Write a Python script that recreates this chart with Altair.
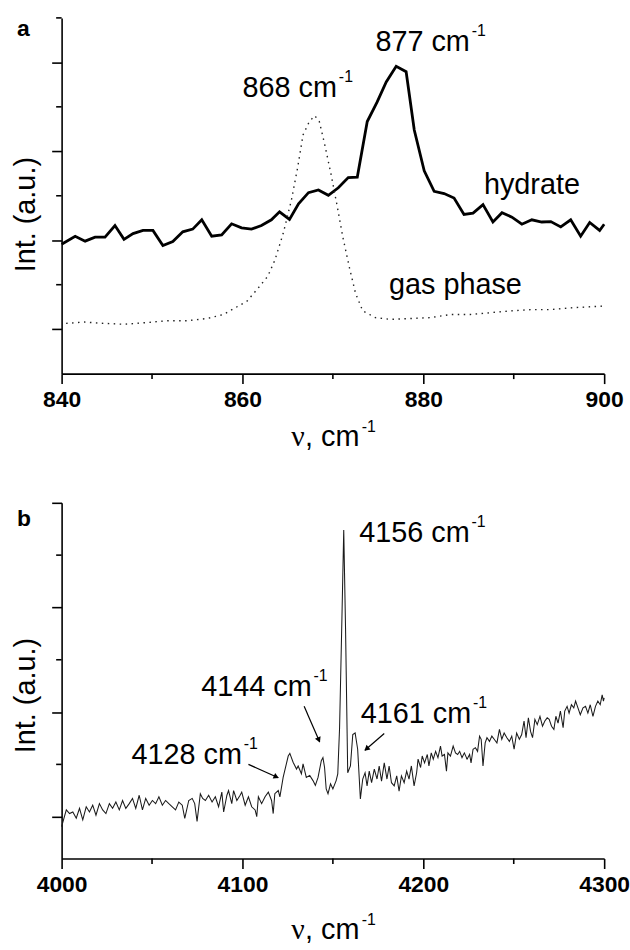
import math
import altair as alt
import pandas as pd

FONT = "Liberation Sans"
SERIF = "Liberation Serif"

# ---------------- Panel a : Raman shift (cm-1) / intensity (a.u.) ----------------
hydrate_x = [840.0, 841.5, 842.6, 843.7, 844.8, 845.9, 846.9, 847.9, 849.0, 850.1,
             851.2, 852.3, 853.4, 854.5, 855.5, 856.6, 857.7, 858.8, 859.9, 861.0,
             862.1, 863.2, 864.1, 865.2, 866.2, 867.3, 868.4, 869.5, 870.6, 871.7,
             872.7, 873.8, 874.9, 875.9, 877.0, 878.1, 879.0, 880.1, 881.2, 882.3,
             883.4, 884.5, 885.5, 886.6, 887.7, 888.7, 889.8, 890.9, 892.0, 893.1,
             894.1, 895.2, 896.3, 897.4, 898.4, 899.5, 900.0]
hydrate_y = [2.91, 3.09, 2.98, 3.07, 3.07, 3.33, 3.02, 3.15, 3.22, 3.22,
             2.88, 2.97, 3.19, 3.25, 3.46, 3.09, 3.12, 3.37, 3.28, 3.25,
             3.33, 3.46, 3.64, 3.47, 3.82, 4.07, 4.13, 4.01, 4.18, 4.41,
             4.42, 5.67, 6.11, 6.56, 6.91, 6.79, 5.48, 4.56, 4.10, 4.05,
             3.95, 3.58, 3.61, 3.80, 3.41, 3.62, 3.52, 3.36, 3.46, 3.41,
             3.42, 3.30, 3.46, 3.09, 3.40, 3.22, 3.36]

gas_x = [840.5, 842.5, 844.7, 846.9, 849.5, 851.7, 853.9, 856.1, 857.9, 859.2,
         860.5, 861.6, 862.8, 863.6, 864.5, 865.4, 866.1, 866.7, 867.4, 868.0,
         868.5, 869.1, 869.8, 870.5, 871.1, 871.8, 872.5, 873.3, 874.7, 876.4,
         878.6, 880.8, 883.0, 885.2, 887.4, 889.6, 891.9, 894.1, 896.3, 900.0]
gas_y = [1.13, 1.16, 1.13, 1.11, 1.15, 1.19, 1.19, 1.24, 1.33, 1.48,
         1.63, 1.89, 2.19, 2.56, 3.15, 3.89, 4.63, 5.37, 5.67, 5.80,
         5.67, 5.15, 4.48, 3.74, 3.07, 2.41, 1.81, 1.41, 1.26, 1.22,
         1.24, 1.26, 1.33, 1.33, 1.37, 1.41, 1.44, 1.44, 1.48, 1.52]

a_x_major = [840, 860, 880, 900]
a_x_minor = [850, 870, 890]
a_y_major = [1, 3, 5, 7]
a_y_minor = [2, 4, 6, 8]

a_lab_text = ["877 cm", "868 cm", "hydrate", "gas phase"]
a_lab_x = [874.7, 860.0, 886.7, 876.2]
a_lab_y = [7.26, 6.22, 4.04, 1.78]
a_sup_x = [874.7, 860.0]
a_sup_y = [7.26, 6.22]

# ---------------- Panel b ----------------
b_base_x = [4000.0, 4002.6, 4004.4, 4006.2, 4008.1, 4009.9, 4011.7, 4013.6, 4015.4, 4017.2,
            4019.0, 4020.9, 4022.7, 4024.5, 4026.4, 4028.2, 4030.0, 4031.9, 4033.7, 4035.5,
            4037.4, 4039.2, 4041.0, 4042.9, 4044.7, 4046.5, 4048.4, 4050.2, 4052.0, 4053.8,
            4055.7, 4057.5, 4059.3, 4061.2, 4063.0, 4064.8, 4066.7, 4068.1, 4070.3, 4072.2,
            4073.6, 4074.9, 4076.7, 4078.0, 4079.5, 4081.3, 4083.2, 4085.0, 4086.8, 4088.6,
            4089.6, 4091.4, 4092.3, 4094.1, 4095.1, 4096.9, 4098.7, 4099.6, 4101.5, 4103.3,
            4105.1, 4107.0, 4107.9, 4108.8, 4110.6, 4112.5, 4114.3, 4116.1, 4117.0, 4117.9,
            4119.8, 4120.7]
b_base_y = [-0.19, 0.13, 0.06, 0.09, -0.03, 0.16, -0.06, 0.19, 0.09, 0.22,
            0.03, 0.25, 0.13, 0.06, 0.25, 0.16, 0.28, 0.13, 0.31, 0.16,
            0.25, 0.35, 0.16, 0.41, 0.13, 0.35, 0.22, 0.31, 0.25, 0.38,
            0.22, 0.31, 0.25, 0.19, 0.13, 0.28, 0.22, -0.03, 0.31, 0.35,
            0.25, -0.09, 0.44, 0.35, 0.31, 0.41, 0.28, 0.38, 0.19, 0.47,
            0.09, 0.41, 0.50, 0.25, 0.50, 0.31, 0.41, 0.47, 0.22, 0.38,
            0.19, 0.13, 0.00, 0.38, 0.25, 0.38, 0.47, 0.31, 0.06, 0.44,
            0.50, 0.38]
b_band_x = [4122.5, 4125.3, 4126.2, 4128.0, 4129.9, 4130.8, 4132.6, 4133.5, 4135.3, 4137.2,
            4139.0, 4140.3, 4141.8, 4143.6, 4144.5, 4145.4, 4146.3, 4147.3, 4148.7, 4150.0,
            4151.8, 4152.7, 4153.7, 4155.0, 4156.0, 4157.0, 4158.2, 4159.7, 4161.0, 4162.3,
            4163.7, 4165.2]
b_band_y = [0.75, 1.16, 1.21, 1.04, 0.91, 0.97, 0.82, 1.01, 0.75, 0.79,
            0.69, 0.60, 0.75, 1.07, 1.13, 0.94, 0.53, 0.44, 0.63, 0.53,
            0.69, 0.82, 1.70, 3.80, 5.48, 3.60, 0.84, 0.97, 1.57, 1.60,
            1.29, 0.34]
b_right_x = [4166.5, 4167.8, 4168.9, 4170.1, 4171.4, 4172.9, 4174.4, 4175.6, 4176.9, 4178.4,
             4179.9, 4181.1, 4182.4, 4183.9, 4185.3, 4186.6, 4187.9, 4189.4, 4190.8, 4192.1,
             4193.4, 4194.9, 4196.3, 4197.1, 4198.5, 4199.4, 4200.7, 4202.2, 4203.1, 4204.4,
             4205.5, 4206.8, 4208.1, 4209.5, 4210.4, 4211.7, 4212.8, 4213.6, 4215.0, 4216.5,
             4217.8, 4219.0, 4220.1, 4221.4, 4222.7, 4224.2, 4225.6, 4226.4, 4227.5, 4228.8,
             4230.0, 4231.1, 4232.0, 4233.0, 4234.2, 4235.2, 4236.6, 4237.9, 4239.2, 4240.7,
             4242.1, 4243.4, 4244.7, 4246.2, 4247.6, 4248.9, 4250.2, 4251.6, 4253.1, 4254.4,
             4255.7, 4256.8, 4258.1, 4259.3, 4260.4, 4261.7, 4263.0, 4264.5, 4265.9, 4267.2,
             4268.5, 4269.6, 4270.9, 4272.2, 4273.3, 4274.5, 4275.8, 4277.3, 4278.2, 4279.5,
             4280.6, 4281.9, 4283.2, 4284.2, 4285.5, 4286.8, 4288.3, 4289.7, 4291.0, 4292.3,
             4293.8, 4295.2, 4296.5, 4297.8, 4298.9, 4299.6, 4300.0]
b_right_y = [0.72, 0.84, 0.59, 0.87, 0.65, 0.91, 0.72, 0.97, 0.68, 1.03,
             0.72, 0.97, 0.65, 0.59, 0.78, 0.49, 0.78, 0.65, 0.87, 0.72,
             0.97, 0.59, 0.84, 1.10, 0.94, 1.16, 1.03, 1.19, 0.97, 1.22,
             1.10, 1.25, 1.13, 1.35, 1.16, 1.19, 0.87, 1.22, 1.16, 1.35,
             1.22, 1.19, 1.25, 1.13, 1.22, 1.10, 1.19, 1.03, 1.29, 1.32,
             1.25, 1.54, 1.48, 0.97, 1.41, 1.51, 1.44, 1.54, 1.48, 1.41,
             1.67, 1.48, 1.60, 1.51, 1.44, 1.54, 1.29, 1.60, 1.48, 1.57,
             1.83, 1.51, 1.89, 1.63, 1.51, 1.86, 1.76, 1.92, 1.73, 1.83,
             1.89, 1.86, 1.73, 1.67, 1.92, 1.79, 2.02, 1.70, 2.02, 2.11,
             1.98, 2.14, 2.08, 2.21, 2.08, 1.95, 2.08, 2.11, 1.98, 2.14,
             1.92, 2.11, 2.21, 2.14, 2.33, 2.21, 2.27]

b_x_major = [4000, 4100, 4200, 4300]
b_x_minor = [4050, 4150, 4250]
b_y_major = [0, 2, 4, 6]
b_y_minor = [1, 3, 5]

b_lab_text = ["4156 cm", "4161 cm", "4144 cm", "4128 cm"]
b_lab_x = [4164.6, 4165.4, 4077.2, 4038.6]
b_lab_y = [5.26, 1.80, 2.30, 1.00]

arrow_x0 = [4103.3, 4134.1, 4178.4]
arrow_y0 = [1.00, 2.11, 1.59]
arrow_x1 = [4119.8, 4142.7, 4167.7]
arrow_y1 = [0.745, 1.43, 1.27]

# ---------------- layout ----------------
W, H = 546, 358
A_XD, A_YD = [840, 900], [0, 8]
B_XD, B_YD = [4000, 4300], [-0.8, 6]


def fixed_text(txt, x, y, **kw):
    return alt.Chart(pd.DataFrame({"t": [txt]})).mark_text(color="black", **kw).encode(
        x=alt.value(x), y=alt.value(y), text="t:N")


def build_panel(lines, xs, ys, xmaj, xmin_, ymaj, ymin_, lab_text, lab_x, lab_y,
                sup_x, sup_y, sup_dx, letter, letter_y, title_y, ytitle_y, extra_fn):
    ax_x = alt.Axis(values=xmaj, title=None, grid=False, tickSize=10, labelPadding=5,
                    labelFlush=False, labelOverlap=False, format="d")
    ax_y = alt.Axis(values=ymaj, title=None, grid=False, tickSize=10, labels=False)

    def X(f="x"):
        return alt.X(f + ":Q", scale=xs, axis=ax_x)

    def Y(f="y"):
        return alt.Y(f + ":Q", scale=ys, axis=ax_y)

    layers = []
    for df, style in lines:
        layers.append(alt.Chart(df).mark_line(**style).encode(x=X(), y=Y()))
    layers.append(alt.Chart(pd.DataFrame({"x": xmin_})).mark_rule(color="black", strokeWidth=1.6).encode(
        x=X(), y=alt.value(H), y2=alt.value(H + 5.5)))
    layers.append(alt.Chart(pd.DataFrame({"y": ymin_})).mark_rule(color="black", strokeWidth=1.6).encode(
        y=Y(), x=alt.value(-5.5), x2=alt.value(0)))
    layers.append(alt.Chart(pd.DataFrame({"x": lab_x, "y": lab_y, "t": lab_text})).mark_text(
        align="left", baseline="alphabetic", font=FONT, fontSize=29, color="black").encode(
        x=X(), y=Y(), text="t:N"))
    layers.append(alt.Chart(pd.DataFrame({"x": sup_x, "y": sup_y, "t": ["-1"] * len(sup_x)})).mark_text(
        align="left", baseline="alphabetic", font=FONT, fontSize=16, color="black",
        dx=sup_dx, dy=-15).encode(x=X(), y=Y(), text="t:N"))
    layers += extra_fn(X, Y)
    layers.append(fixed_text(letter, -45, letter_y, font=FONT, fontSize=23, fontWeight="bold",
                             align="left", baseline="alphabetic"))
    layers.append(fixed_text("\u03bd", 231, title_y, font=SERIF, fontSize=30,
                             align="left", baseline="alphabetic"))
    layers.append(fixed_text(", cm", 245, title_y, font=FONT, fontSize=29,
                             align="left", baseline="alphabetic"))
    layers.append(fixed_text("-1", 302, title_y - 14, font=FONT, fontSize=16,
                             align="left", baseline="alphabetic"))
    layers.append(fixed_text("Int. (a.u.)", -21, ytitle_y, font=FONT, fontSize=29, angle=270,
                             align="center", baseline="bottom"))
    return alt.layer(*layers).properties(width=W, height=H)


# panel a
xa = alt.Scale(domain=A_XD, nice=False, zero=False)
ya = alt.Scale(domain=A_YD, nice=False, zero=False)
lines_a = [
    (pd.DataFrame({"x": hydrate_x, "y": hydrate_y}), dict(color="black", strokeWidth=2.8)),
    (pd.DataFrame({"x": gas_x, "y": gas_y}), dict(color="#222222", strokeWidth=1.4, strokeDash=[1.5, 4.5])),
]
panel_a = build_panel(lines_a, xa, ya, a_x_major, a_x_minor, a_y_major, a_y_minor,
                      a_lab_text, a_lab_x, a_lab_y, a_sup_x, a_sup_y, 97,
                      "a", 18, H + 73, 198, lambda X, Y: [])

# panel b
xb = alt.Scale(domain=B_XD, nice=False, zero=False)
yb = alt.Scale(domain=B_YD, nice=False, zero=False)
b_x = b_base_x + b_band_x + b_right_x
b_y = b_base_y + b_band_y + b_right_y
lines_b = [(pd.DataFrame({"x": b_x, "y": b_y}), dict(color="#1a1a1a", strokeWidth=1.05))]

kx = W / (B_XD[1] - B_XD[0])
ky = H / (B_YD[1] - B_YD[0])
head_x, head_y, head_a = [], [], []
for x0, y0, x1, y1 in zip(arrow_x0, arrow_y0, arrow_x1, arrow_y1):
    dxp = (x1 - x0) * kx
    dyp = -(y1 - y0) * ky
    L = math.hypot(dxp, dyp)
    head_a.append(math.degrees(math.atan2(dxp, -dyp)) % 360)
    back = 3.0
    head_x.append(x1 - dxp / L * back / kx)
    head_y.append(y1 + dyp / L * back / ky)


def arrows_fn(X, Y):
    arrows = alt.Chart(pd.DataFrame({"x": arrow_x0, "y": arrow_y0, "x2": arrow_x1, "y2": arrow_y1})).mark_rule(
        color="black", strokeWidth=1.2).encode(x=X(), y=Y(), x2="x2:Q", y2="y2:Q")
    heads = alt.Chart(pd.DataFrame({"x": head_x, "y": head_y, "a": head_a})).mark_point(
        shape="triangle", filled=True, size=38, color="black", opacity=1, strokeWidth=0).encode(
        x=X(), y=Y(), angle=alt.Angle("a:Q", scale=None))
    return [arrows, heads]


panel_b = build_panel(lines_b, xb, yb, b_x_major, b_x_minor, b_y_major, b_y_minor,
                      b_lab_text, b_lab_x, b_lab_y, b_lab_x, b_lab_y, 113,
                      "b", 23, H + 81, 194, arrows_fn)

chart = alt.vconcat(panel_a, panel_b, spacing=50).properties(
    padding={"left": 12, "top": 14, "right": 0, "bottom": 0},
    background="white",
).configure_view(stroke=None).configure_axis(
    domainColor="black", domainWidth=1.6, tickColor="black", tickWidth=1.6,
    labelFont=FONT, labelFontSize=23, labelFontWeight="bold", labelColor="black",
)

chart.save("out.html", embed_options={"renderer": "svg", "actions": False})
